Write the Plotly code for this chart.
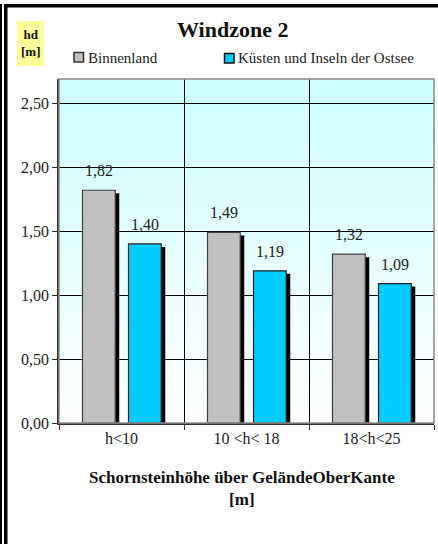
import base64
import plotly.graph_objects as go

categories = ["h<10", "10 <h< 18", "18<h<25"]
tick_labels = ["h&lt;10", "10 &lt;h&lt; 18", "18&lt;h&lt;25"]
binnenland = [1.82, 1.49, 1.32]
kueste = [1.40, 1.19, 1.09]
y_ticks = [0.0, 0.5, 1.0, 1.5, 2.0, 2.5]

W, H = 438, 544
L, R, T, B = 59, 4, 79, 121
PW, PH = W - L - R, H - T - B
YMAX = 2.69

def px2x(px):
    return (px - L) / PW

def px2y(py):
    return (H - B - py) / PH

FONT = "Liberation Serif"
GRAY = "#c0c0c0"
CYAN = "#00ccff"

bw = 0.262
off_g = -0.312
off_c = 0.056
sh_dx = 4 / PW * 3  # 4 px in category units
sh_dy = 3 / PH * YMAX

fig = go.Figure()
for vals, off in [(binnenland, off_g), (kueste, off_c)]:
    fig.add_trace(go.Bar(
        x=categories, y=[v - sh_dy for v in vals], width=bw, offset=off + sh_dx,
        marker=dict(color="black", line=dict(width=0)), showlegend=False, hoverinfo="skip"))
fig.add_trace(go.Bar(
    x=categories, y=binnenland, width=bw, offset=off_g, name="Binnenland",
    marker=dict(color=GRAY, line=dict(color="#404040", width=1.2)), showlegend=False))
fig.add_trace(go.Bar(
    x=categories, y=kueste, width=bw, offset=off_c, name="Küsten und Inseln der Ostsee",
    marker=dict(color=CYAN, line=dict(color="#202020", width=1.2)), showlegend=False))

ann = []
for i in range(len(categories)):
    for vals, off in [(binnenland, off_g), (kueste, off_c)]:
        v = vals[i]
        ann.append(dict(x=i + off + bw / 2, y=v, xref="x", yref="y",
                        text=f"{v:.2f}".replace(".", ","), showarrow=False,
                        xanchor="center", yanchor="bottom", yshift=9,
                        font=dict(family=FONT, size=16, color="#222")))

def txt(x, y, text, size, xanchor="center", color="#111"):
    return dict(x=px2x(x), y=px2y(y), xref="paper", yref="paper", text=text,
                showarrow=False, xanchor=xanchor, yanchor="middle",
                font=dict(family=FONT, size=size, color=color))

ann.append(txt(232, 30, "<b>Windzone 2</b>", 22))
ann.append(txt(30.5, 43.5, "<b>hd<br>[m]</b>", 13))
ann.append(txt(86, 57.5, "Binnenland", 15, "left", "#222"))
ann.append(txt(236, 58, "Küsten und Inseln der Ostsee", 15, "left", "#222"))
ann.append(txt(242, 489, "<b>Schornsteinhöhe über GeländeOberKante<br>[m]</b>", 17))

shapes = [
    dict(type="rect", xref="paper", yref="paper", x0=px2x(17), x1=px2x(44),
         y0=px2y(66), y1=px2y(21), fillcolor="#ffff99", line=dict(width=0), layer="below"),
    dict(type="rect", xref="paper", yref="paper", x0=px2x(74), x1=px2x(83.5),
         y0=px2y(62), y1=px2y(52.5), fillcolor=GRAY, line=dict(color="#333", width=1.5)),
    dict(type="rect", xref="paper", yref="paper", x0=px2x(224.5), x1=px2x(234),
         y0=px2y(63), y1=px2y(53.5), fillcolor=CYAN, line=dict(color="#111", width=1.5)),
    dict(type="rect", xref="paper", yref="paper", x0=px2x(0), x1=px2x(2),
         y0=px2y(H), y1=px2y(4), fillcolor="black", line=dict(width=0)),
    dict(type="rect", xref="paper", yref="paper", x0=px2x(4), x1=px2x(7.5),
         y0=px2y(H), y1=px2y(4), fillcolor="black", line=dict(width=0)),
    dict(type="rect", xref="paper", yref="paper", x0=px2x(4), x1=px2x(W),
         y0=px2y(7.5), y1=px2y(4), fillcolor="black", line=dict(width=0)),
    dict(type="rect", xref="paper", yref="paper", x0=0, x1=1, y0=0, y1=1,
         line=dict(color="#8a8a8a", width=1.5)),
]

svg = ('<svg xmlns="http://www.w3.org/2000/svg" width="10" height="100" '
       'preserveAspectRatio="none"><defs><linearGradient id="g" x1="0" y1="0" x2="0" y2="1">'
       '<stop offset="0" stop-color="#ccffff"/><stop offset="1" stop-color="#ffffff"/>'
       '</linearGradient></defs><rect width="10" height="100" fill="url(#g)"/></svg>')
src = "data:image/svg+xml;base64," + base64.b64encode(svg.encode()).decode()

fig.update_layout(
    width=W, height=H, margin=dict(l=L, r=R, t=T, b=B, autoexpand=False),
    paper_bgcolor="white", plot_bgcolor="rgba(0,0,0,0)",
    barmode="overlay", separators=",.",
    showlegend=False,
    annotations=ann, shapes=shapes,
    images=[dict(source=src, xref="paper", yref="paper", x=0, y=1, sizex=1, sizey=1,
                 sizing="stretch", xanchor="left", yanchor="top", layer="below")],
    xaxis=dict(type="category", categoryorder="array", categoryarray=categories,
               tickmode="array", tickvals=categories, ticktext=tick_labels,
               tickson="boundaries", ticks="outside", ticklen=5, tickcolor="#333",
               showgrid=True, gridcolor="black", gridwidth=1,
               showline=True, linecolor="#333", linewidth=1.5,
               tickfont=dict(family=FONT, size=16, color="#222"), range=[-0.5, 2.5]),
    yaxis=dict(range=[0, YMAX], tickmode="array", tickvals=y_ticks, tickformat=".2f",
               ticks="outside", ticklen=5, tickcolor="#333",
               showgrid=True, gridcolor="black", gridwidth=1, zeroline=False,
               showline=True, linecolor="#333", linewidth=1.5,
               tickfont=dict(family=FONT, size=16, color="#222")),
)

fig.write_html("out.html", config={"displayModeBar": False},
               post_script="document.body.style.margin='0';")
